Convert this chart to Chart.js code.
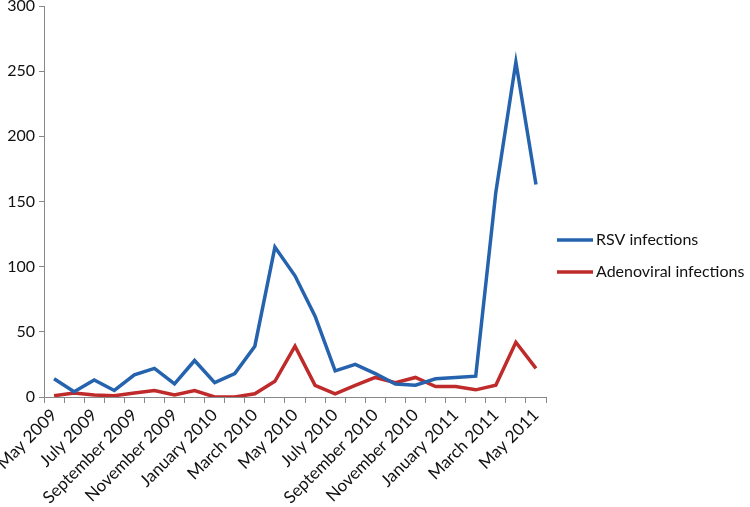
<!DOCTYPE html>
<html>
<head>
<meta charset="utf-8">
<script src="https://cdn.jsdelivr.net/npm/chart.js"></script>
<style>
  html, body { margin: 0; padding: 0; background: #fff; }
  #wrap { width: 750px; height: 507px; }
</style>
</head>
<body>
<div id="wrap"><canvas id="myChart" width="750" height="507"></canvas></div>
<script>
var months = ['May 2009', 'June 2009', 'July 2009', 'August 2009', 'September 2009', 'October 2009',
  'November 2009', 'December 2009', 'January 2010', 'February 2010', 'March 2010', 'April 2010',
  'May 2010', 'June 2010', 'July 2010', 'August 2010', 'September 2010', 'October 2010',
  'November 2010', 'December 2010', 'January 2011', 'February 2011', 'March 2011', 'April 2011', 'May 2011'];
var rsv = [14, 4, 13, 5, 17, 22, 10, 28, 11, 18, 39, 115, 93, 62, 20, 25, 18, 10, 9, 14, 15, 16, 157, 257, 163];
var adeno = [1, 3, 1.5, 1, 3, 5, 1.5, 5, 0, 0, 2.5, 12, 39, 9, 2.5, 9, 15, 11, 15, 8, 8, 5.5, 9, 42, 22];
var yTicks = [0, 50, 100, 150, 200, 250, 300];

var font = { family: 'Lato, "Open Sans", sans-serif', size: 16 };
var xFont = { family: 'Lato, "Open Sans", sans-serif', size: 17 };

// legend drawn by hand on the right, Excel style
var sideLegend = {
  id: 'sideLegend',
  afterDraw: function (chart) {
    var c = chart.ctx;
    var x0 = chart.chartArea.right + 11;
    var yMid = 256;
    c.save();
    c.font = '16px ' + font.family;
    c.textBaseline = 'middle';
    chart.data.datasets.forEach(function (ds, i) {
      var y = yMid - 16 + i * 32;
      c.strokeStyle = ds.borderColor;
      c.lineWidth = 3.5;
      c.beginPath();
      c.moveTo(x0, y);
      c.lineTo(x0 + 36, y);
      c.stroke();
      c.fillStyle = '#111';
      c.fillText(ds.label, x0 + 39, y);
    });
    c.restore();
  }
};

var ctx = document.getElementById('myChart').getContext('2d');
var myChart = new Chart(ctx, {
  type: 'line',
  data: {
    labels: months,
    datasets: [
      { label: 'RSV infections', data: rsv, borderColor: '#2563ae', backgroundColor: '#2563ae',
        borderWidth: 3.5, pointRadius: 0, tension: 0 },
      { label: 'Adenoviral infections', data: adeno, borderColor: '#bf2a2a', backgroundColor: '#bf2a2a',
        borderWidth: 3.5, pointRadius: 0, tension: 0 }
    ]
  },
  options: {
    responsive: false,
    animation: false,
    layout: { padding: { top: 6, right: 204, left: 0, bottom: 0 } },
    plugins: {
      tooltip: { enabled: false },
      legend: { display: false }
    },
    scales: {
      x: {
        offset: true,
        grid: { offset: true, drawOnChartArea: false, drawTicks: true, tickLength: 6, color: '#888' },
        border: { color: '#888', width: 1 },
        ticks: {
          autoSkip: false,
          maxRotation: 45,
          minRotation: 45,
          font: xFont,
          color: '#111',
          padding: 2,
          callback: function (v, i) { return i % 2 === 0 ? months[i] : ''; }
        },
        afterFit: function (axis) {
          axis.paddingLeft = 0;
          axis.paddingRight = 0;
          axis.height = 110;
        }
      },
      y: {
        min: 0,
        max: 300,
        afterBuildTicks: function (axis) { axis.ticks = yTicks.map(function (v) { return { value: v }; }); },
        grid: { drawOnChartArea: false, drawTicks: true, tickLength: 5, color: '#888' },
        border: { color: '#888', width: 1 },
        ticks: { font: font, color: '#111', padding: 4 },
        afterFit: function (axis) {
          axis.paddingTop = 0;
          axis.paddingBottom = 0;
          axis.width = 44;
        }
      }
    }
  },
  plugins: [sideLegend]
});
</script>
</body>
</html>
